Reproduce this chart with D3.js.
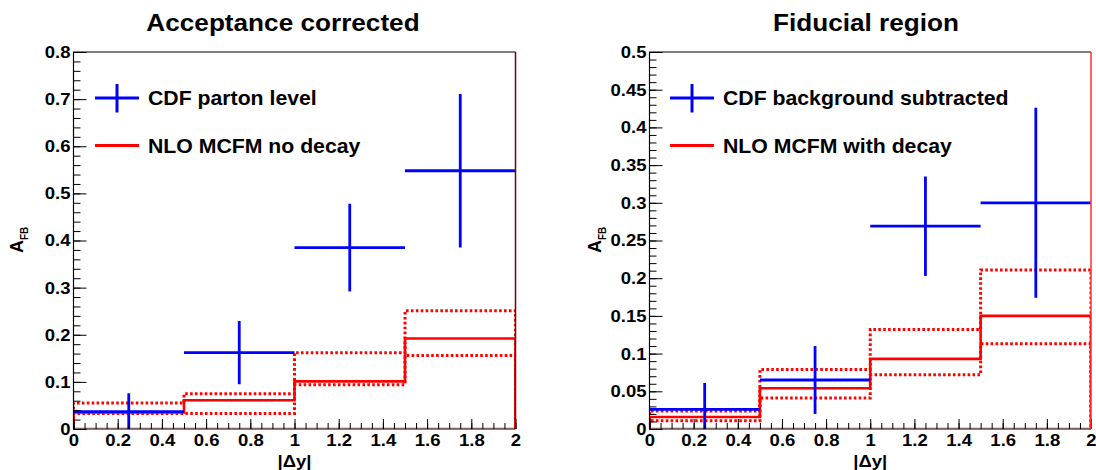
<!DOCTYPE html>
<html><head><meta charset="utf-8">
<script src="https://cdn.jsdelivr.net/npm/d3@7/dist/d3.min.js"></script>
<style>
html,body{margin:0;padding:0;background:#fff;}
svg{display:block;}
text{font-family:"Liberation Sans",Arial,Helvetica,sans-serif;font-weight:bold;fill:#000;}
</style>
</head><body>
<svg id="c" width="1096" height="470"></svg>
<script>
// ---------- data ----------
const binEdges   = [0, 0.5, 1, 1.5, 2];
const binCenters = [0.25, 0.75, 1.25, 1.75];

// Acceptance corrected
const accCdf      = [0.037, 0.162, 0.385, 0.548];
const accCdfErr   = [0.039, 0.067, 0.093, 0.163];
const accNlo      = [0.035, 0.061, 0.101, 0.192];
const accNloUp    = [0.055, 0.075, 0.162, 0.251];
const accNloDown  = [0.033, 0.033, 0.094, 0.156];

// Fiducial region
const fidCdf      = [0.026, 0.065, 0.269, 0.300];
const fidCdfErr   = [0.035, 0.045, 0.066, 0.126];
const fidNlo      = [0.016, 0.054, 0.093, 0.150];
const fidNloUp    = [0.024, 0.079, 0.132, 0.211];
const fidNloDown  = [0.011, 0.041, 0.072, 0.113];

const xTickValues   = [0, 0.2, 0.4, 0.6, 0.8, 1, 1.2, 1.4, 1.6, 1.8, 2];
const xTickLabels   = ["0","0.2","0.4","0.6","0.8","1","1.2","1.4","1.6","1.8","2"];
const accYTickValues = [0, 0.1, 0.2, 0.3, 0.4, 0.5, 0.6, 0.7, 0.8];
const accYTickLabels = ["0","0.1","0.2","0.3","0.4","0.5","0.6","0.7","0.8"];
const fidYTickValues = [0, 0.05, 0.1, 0.15, 0.2, 0.25, 0.3, 0.35, 0.4, 0.45, 0.5];
const fidYTickLabels = ["0","0.05","0.1","0.15","0.2","0.25","0.3","0.35","0.4","0.45","0.5"];

const titles  = ["Acceptance corrected", "Fiducial region"];
const legendCdf = ["CDF parton level", "CDF background subtracted"];
const legendNlo = ["NLO MCFM no decay", "NLO MCFM with decay"];

// ---------- drawing ----------
const svg = d3.select("#c");
const SX = 1.09; // horizontal stretch of the glyphs in the reference
const BLUE = "#0000ff", RED = "#ff0000";

function txt(g, x, y, s, size, anchor) {
  return g.append("text")
    .attr("transform", `translate(${x},${y}) scale(${SX},1)`)
    .attr("text-anchor", anchor || "start")
    .style("font-size", size + "px")
    .text(s);
}

function stepPath(x, y, vals) {
  const p = d3.path();
  p.moveTo(x(binEdges[0]), y(0));
  vals.forEach((v, i) => {
    p.lineTo(x(binEdges[i]), y(v));
    p.lineTo(x(binEdges[i + 1]), y(v));
  });
  p.lineTo(x(binEdges[binEdges.length - 1]), y(0));
  return p.toString();
}

function panel(o) {
  const g = svg.append("g");
  const x = d3.scaleLinear().domain([0, 2]).range([o.x0, o.x1]);
  const y = d3.scaleLinear().domain([0, o.ymax]).range([o.y0, o.y1]);

  const cid = "clip" + o.id;
  svg.append("clipPath").attr("id", cid).append("rect")
    .attr("x", o.x0).attr("y", o.y1).attr("width", o.x1 - o.x0).attr("height", o.y0 - o.y1);

  const plot = g.append("g").attr("clip-path", `url(#${cid})`);

  // red baseline
  plot.append("line").attr("x1", o.x0).attr("x2", o.x1).attr("y1", o.y0 - 1).attr("y2", o.y0 - 1)
    .attr("stroke", RED).attr("stroke-opacity", 0.45).attr("stroke-width", 1);

  // NLO band (dotted) and central (solid)
  [o.up, o.down].forEach(vals => {
    plot.append("path").attr("d", stepPath(x, y, vals))
      .attr("fill", "none").attr("stroke", RED).attr("stroke-width", 3)
      .attr("stroke-dasharray", "2.6,2.3");
  });
  plot.append("path").attr("d", stepPath(x, y, o.nlo))
    .attr("fill", "none").attr("stroke", RED).attr("stroke-width", 2.6);

  // CDF points with errors
  const pts = plot.append("g").attr("stroke", BLUE).attr("stroke-width", 2.8);
  o.cdf.forEach((v, i) => {
    pts.append("line")
      .attr("x1", x(binEdges[i])).attr("x2", x(binEdges[i + 1]))
      .attr("y1", y(v)).attr("y2", y(v));
    pts.append("line")
      .attr("x1", x(binCenters[i])).attr("x2", x(binCenters[i]))
      .attr("y1", y(v - o.err[i])).attr("y2", y(v + o.err[i]));
  });

  // axes
  const yMinor = d3.range(0, o.ymax + 1e-9, o.yMinorStep);
  const xMinor = d3.range(0, 2 + 1e-9, 0.05);

  const yMin = g.append("g").attr("transform", `translate(${o.x0},0)`)
    .call(d3.axisLeft(y).tickValues(yMinor).tickSize(-7).tickFormat(""));
  const yMaj = g.append("g").attr("transform", `translate(${o.x0},0)`)
    .call(d3.axisLeft(y).tickValues(o.yTicks).tickSize(-13).tickPadding(3)
      .tickFormat((d, i) => o.yLabels[i]));
  const xMin = g.append("g").attr("transform", `translate(0,${o.y0})`)
    .call(d3.axisBottom(x).tickValues(xMinor).tickSize(-6).tickFormat(""));
  const xMaj = g.append("g").attr("transform", `translate(0,${o.y0})`)
    .call(d3.axisBottom(x).tickValues(xTickValues).tickSize(-10).tickPadding(5)
      .tickFormat((d, i) => xTickLabels[i]));

  [yMin, yMaj, xMin, xMaj].forEach(a => {
    a.select(".domain").remove();
    a.selectAll("line").attr("stroke", "#000").attr("stroke-width", 1);
  });
  [yMaj, xMaj].forEach(a => a.selectAll("text")
    .style("font-size", "17px").style("font-family", '"Liberation Sans",Arial,sans-serif')
    .style("font-weight", "bold").attr("fill", "#000"));
  yMaj.selectAll("text").attr("transform", `scale(${SX},1)`).attr("x", -3 / SX);
  xMaj.selectAll("text").attr("transform", `scale(${SX},1)`);

  // frame
  g.append("path")
    .attr("d", `M${o.x1},${o.y1}H${o.x0}V${o.y0}H${o.x1}`)
    .attr("fill", "none").attr("stroke", "#000").attr("stroke-width", 1.2);
  g.append("line").attr("x1", o.x1).attr("x2", o.x1).attr("y1", o.y1).attr("y2", o.y0)
    .attr("stroke", o.rightColor).attr("stroke-width", 1.5);

  // titles
  txt(g, o.titleX, 31, o.title, 24, "middle");
  txt(g, (o.x0 + o.x1) / 2, 467, "|\u0394y|", 17, "middle");

  const yt = g.append("text")
    .attr("transform", `translate(${o.ytX},${o.ytY}) rotate(-90)`)
    .style("font-size", "18px");
  yt.append("tspan").text("A");
  yt.append("tspan").attr("dy", 5).style("font-size", "10px").text("FB");

  // legend
  const lg = g.append("g");
  const lx0 = o.legX, lx1 = o.legX + 44;
  lg.append("line").attr("x1", lx0).attr("x2", lx1).attr("y1", 98).attr("y2", 98)
    .attr("stroke", BLUE).attr("stroke-width", 3);
  lg.append("line").attr("x1", (lx0 + lx1) / 2).attr("x2", (lx0 + lx1) / 2).attr("y1", 84).attr("y2", 112.5)
    .attr("stroke", BLUE).attr("stroke-width", 3);
  lg.append("line").attr("x1", lx0).attr("x2", lx1).attr("y1", 145.5).attr("y2", 145.5)
    .attr("stroke", RED).attr("stroke-width", 3);
  txt(lg, o.legX + 53, 105, o.leg1, 19.5, "start");
  txt(lg, o.legX + 53, 152.5, o.leg2, 19.5, "start");
}

panel({
  id: "a", x0: 73.5, x1: 515.5, y0: 429, y1: 52, ymax: 0.8,
  yTicks: accYTickValues, yLabels: accYTickLabels, yMinorStep: 0.02,
  cdf: accCdf, err: accCdfErr, nlo: accNlo, up: accNloUp, down: accNloDown,
  title: titles[0], titleX: 283, leg1: legendCdf[0], leg2: legendNlo[0], legX: 95,
  ytX: 23, ytY: 253, rightColor: "#7a0000"
});
panel({
  id: "b", x0: 649.5, x1: 1091, y0: 429, y1: 52, ymax: 0.5,
  yTicks: fidYTickValues, yLabels: fidYTickLabels, yMinorStep: 0.01,
  cdf: fidCdf, err: fidCdfErr, nlo: fidNlo, up: fidNloUp, down: fidNloDown,
  title: titles[1], titleX: 866, leg1: legendCdf[1], leg2: legendNlo[1], legX: 670,
  ytX: 601, ytY: 253, rightColor: "#ff3030"
});
</script>
</body></html>
